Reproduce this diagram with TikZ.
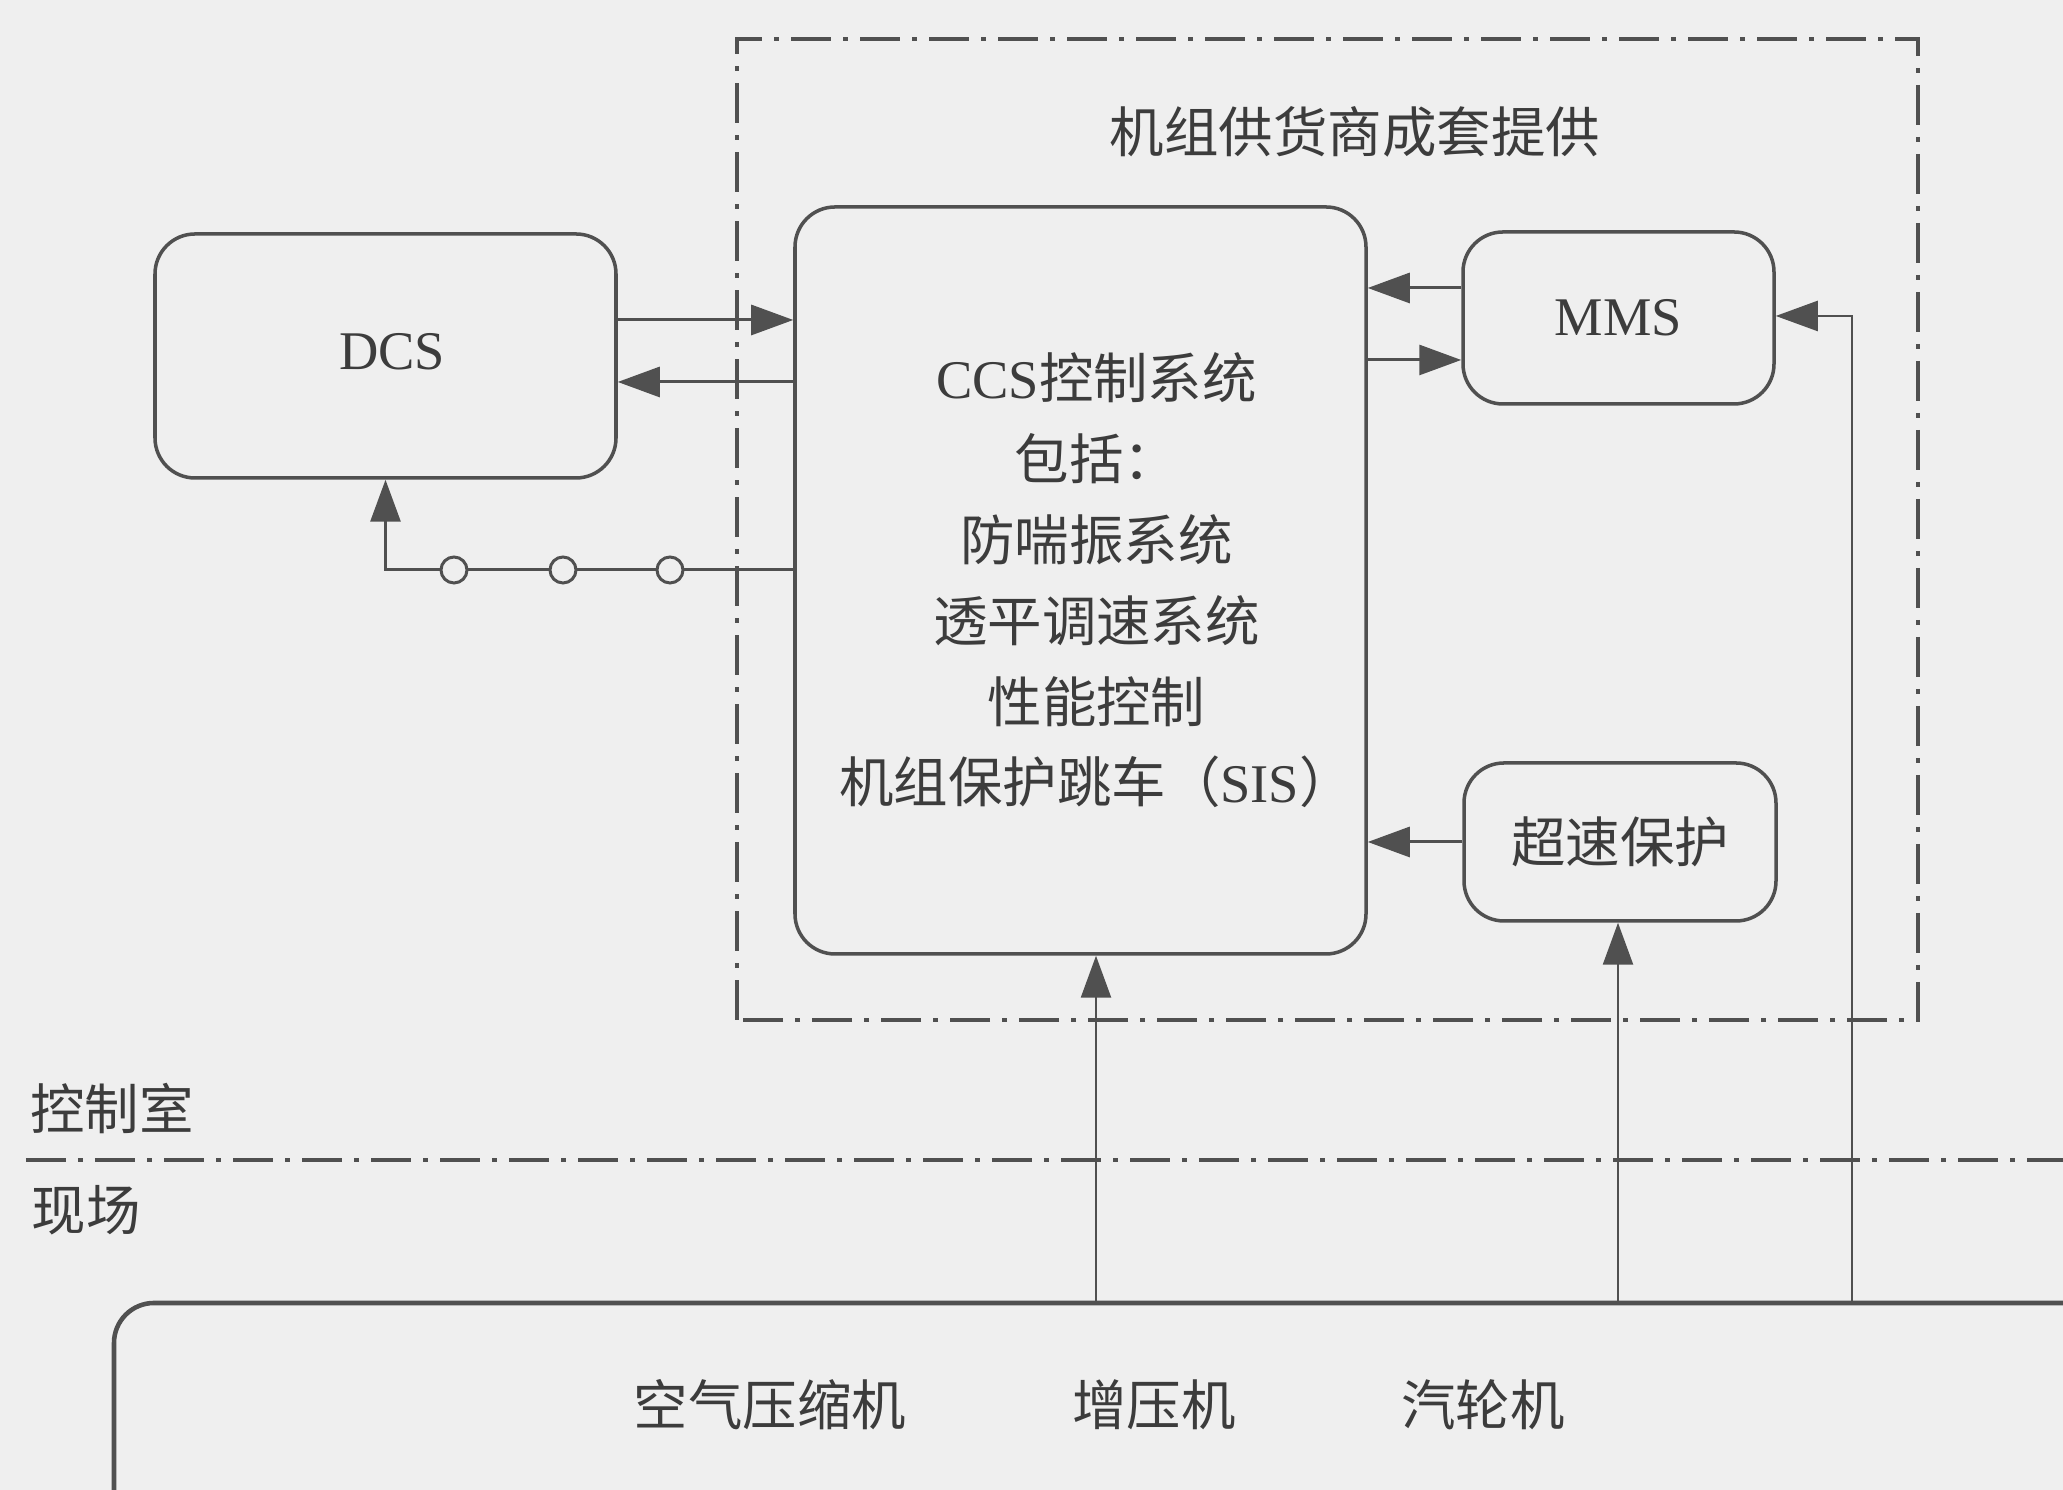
\documentclass[tikz,border=0pt]{standalone}
\usepackage{fontspec}
\setmainfont{Noto Sans CJK SC}
\newfontfamily\latn{Liberation Serif}
\usetikzlibrary{arrows.meta,positioning}
\definecolor{linie}{HTML}{505050}
\definecolor{schrift}{HTML}{3C3C3C}
\definecolor{papier}{HTML}{EFEFEF}

\begin{document}
\begin{tikzpicture}[
  font=\fontsize{15.5}{23}\selectfont, text=schrift,
  kasten/.style={draw=linie,line width=1pt,rounded corners=0.4cm},
  pfeil/.style={linie,line width=0.85pt,-{Triangle[length=4.2mm,width=3mm]}},
  kontakt/.style={circle,draw=linie,line width=0.85pt,fill=papier,minimum size=0.26cm,inner sep=0pt},
  strichpunkt/.style={linie,line width=0.9pt,dash pattern=on 4mm off 1.2mm on 0.5mm off 1.2mm}]
  \fill[papier] (0,0) rectangle (20.63,14.90);
  \useasboundingbox (0,0) rectangle (20.63,14.90);
  % Lieferumfang
  \draw[strichpunkt] (7.37,4.70) rectangle (19.18,14.51);
  \node (titel) at (13.55,13.58) {机组供货商成套提供};
  \node[kasten,minimum width=4.61cm,minimum height=2.44cm] (dcs) at (3.855,11.34) {};
  \node (dcstext) at (3.92,11.38) {\latn DCS};
  \node[kasten,minimum width=5.71cm,minimum height=7.47cm] (ccs) at (10.805,9.095) {};
  \node[align=center] (ccstext) at ([xshift=0.16cm]ccs.center)
    {{\latn CCS}控制系统\\包括：\\防喘振系统\\透平调速系统\\性能控制\\机组保护跳车（{\latn SIS}）};
  \node[kasten,minimum width=3.11cm,minimum height=1.72cm] (mms) at (16.185,11.72) {\latn MMS};
  \node[kasten,minimum width=3.12cm,minimum height=1.58cm] (ueber) at (16.20,6.48) {超速保护};
  % Feld
  \begin{scope}
    \clip (0,0) rectangle (20.63,14.90);
    \node[kasten,line width=1.3pt,minimum width=20.36cm,minimum height=2.87cm] (anlage) at (11.32,0.435) {};
  \end{scope}
  \node (luft) at (7.70,0.85) {空气压缩机};
  \node (zusatz) at (11.54,0.85) {增压机};
  \node (turbine) at (14.83,0.85) {汽轮机};
  \draw[strichpunkt] (0.26,3.30) -- (20.63,3.30);
  \node (warte) at (1.12,3.81) {控制室};
  \node (feld) at (0.86,2.80) {现场};
  % Verbindungen
  \draw[pfeil] ([yshift=0.36cm]dcs.east) -- ([yshift=0.36cm]dcs.east -| ccs.west);
  \draw[pfeil] ([yshift=-0.26cm]dcs.east -| ccs.west) -- ([yshift=-0.26cm]dcs.east);
  \draw[pfeil] ([yshift=0.30cm]mms.west) -- ([yshift=0.30cm]mms.west -| ccs.east);
  \draw[pfeil] ([yshift=-0.42cm]mms.west -| ccs.east) -- ([yshift=-0.42cm]mms.west);
  \draw[pfeil] (ueber.west) -- (ueber.west -| ccs.east);
  \draw[pfeil] ([yshift=0.105cm]ccs.west) -| (dcs.south);
  \foreach \x [count=\i] in {4.54,5.63,6.70}
    \node[kontakt] (k\i) at (\x,9.20) {};
  \coordinate (s1) at (10.96,1.87);
  \coordinate (s2) at (16.18,1.87);
  \coordinate (s3) at (18.52,1.87);
  \draw[pfeil,line width=0.7pt] (s1) -- (s1 |- ccs.south);
  \draw[pfeil,line width=0.7pt] (s2) -- (s2 |- ueber.south);
  \draw[pfeil,line width=0.7pt] (s3) |- ([yshift=0.02cm]mms.east);
\end{tikzpicture}
\end{document}
